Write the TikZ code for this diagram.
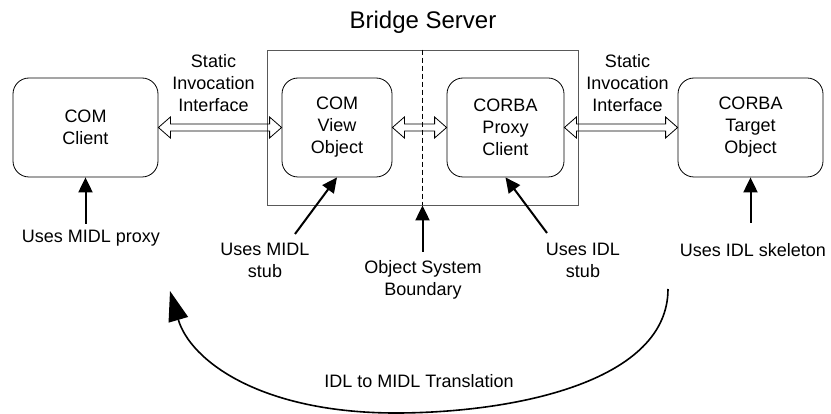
\documentclass[tikz,border=0pt]{standalone}
\usepackage{fontspec}
\setmainfont{Liberation Sans}
\usetikzlibrary{arrows.meta,calc}

\tikzset{
  obj/.style={draw, rounded corners=16pt, minimum width=#1, minimum height=99pt,
    inner sep=0pt, align=center, line width=0.8pt},
  lbl/.style={align=center, inner sep=0pt},
  uses/.style={line width=2pt, -{Triangle[length=15pt,width=14pt]}},
  % hollow block arrow with a head at both ends
  sii/.style={line width=0.8pt, to path={let \p1=(\tikztostart), \p2=(\tikztotarget) in
    (\x1,\y1) -- (\x1+12pt,\y1+10.5pt) -- (\x1+12pt,\y1+3.5pt) -- (\x2-12pt,\y1+3.5pt)
    -- (\x2-12pt,\y1+10.5pt) -- (\x2,\y1) -- (\x2-12pt,\y1-10.5pt) -- (\x2-12pt,\y1-3.5pt)
    -- (\x1+12pt,\y1-3.5pt) -- (\x1+12pt,\y1-10.5pt) -- cycle}},
}

\begin{document}
\begin{tikzpicture}[x=1pt, y=-1pt, font=\fontsize{18}{22}\selectfont]
\useasboundingbox (0,0) rectangle (831,414);

% the server and its two halves
\node[draw=black!65, line width=0.8pt, minimum width=311pt, minimum height=155pt] (bridge) at (422.5,127.5) {};
\node[font=\fontsize{24}{28}\selectfont] (title) at (423,22) {Bridge Server};

\node[obj=145pt] (ccli) at (85.5,127.5) {COM\\Client};
\node[obj=110pt] (cvo) at (337,127.5) {COM\\View\\Object};
\node[obj=117pt] (cpc) at (505.5,127.5) {CORBA\\Proxy\\Client};
\node[obj=145pt] (ctgt) at (750.5,127.5) {CORBA\\Target\\Object};

\node[lbl] (siil) at (213.5,83) {Static\\Invocation\\Interface};
\node[lbl] (siir) at (627.5,83) {Static\\Invocation\\Interface};

\draw[sii] (ccli.east) to (cvo.west);
\draw[sii] (cvo.east) to (cpc.west);
\draw[sii] (cpc.east) to (ctgt.west);

\draw[line width=1.2pt, dash pattern=on 5pt off 3pt] (bridge.north) -- (bridge.south);

% what each part uses
\node[lbl] (lproxy) at (91,238) {Uses MIDL proxy};
\node[lbl] (lmstub) at (265,260) {Uses MIDL\\stub};
\node[lbl] (lbound) at (423,280) {Object System\\Boundary};
\node[lbl] (listub) at (583,260) {Uses IDL\\stub};
\node[lbl] (lskel) at (753,250) {Uses IDL skeleton};

\coordinate (pa) at (85.5,224);
\coordinate (pb) at (295,234);
\coordinate (pc) at (422.5,252);
\coordinate (pd) at (547,233);
\coordinate (pe) at (750.5,223);

\draw[uses] (pa) -- (ccli.south);
\draw[uses] (pb) -- (cvo.south);
\draw[uses] (pc) -- (bridge.south);
\draw[uses] (pd) -- (cpc.south);
\draw[uses] (pe) -- (ctgt.south);

% translation
\coordinate (trs) at (668,289);
\coordinate (tre) at (170,291);
\draw[line width=1.6pt, -{Triangle[length=30pt,width=20pt]}]
  (trs) .. controls (668,380) and (520,412) .. (400,413)
  .. controls (260,414) and (190,360) .. (tre);
\node[lbl] (ltrans) at (419,381) {IDL to MIDL Translation};
\end{tikzpicture}
\end{document}
